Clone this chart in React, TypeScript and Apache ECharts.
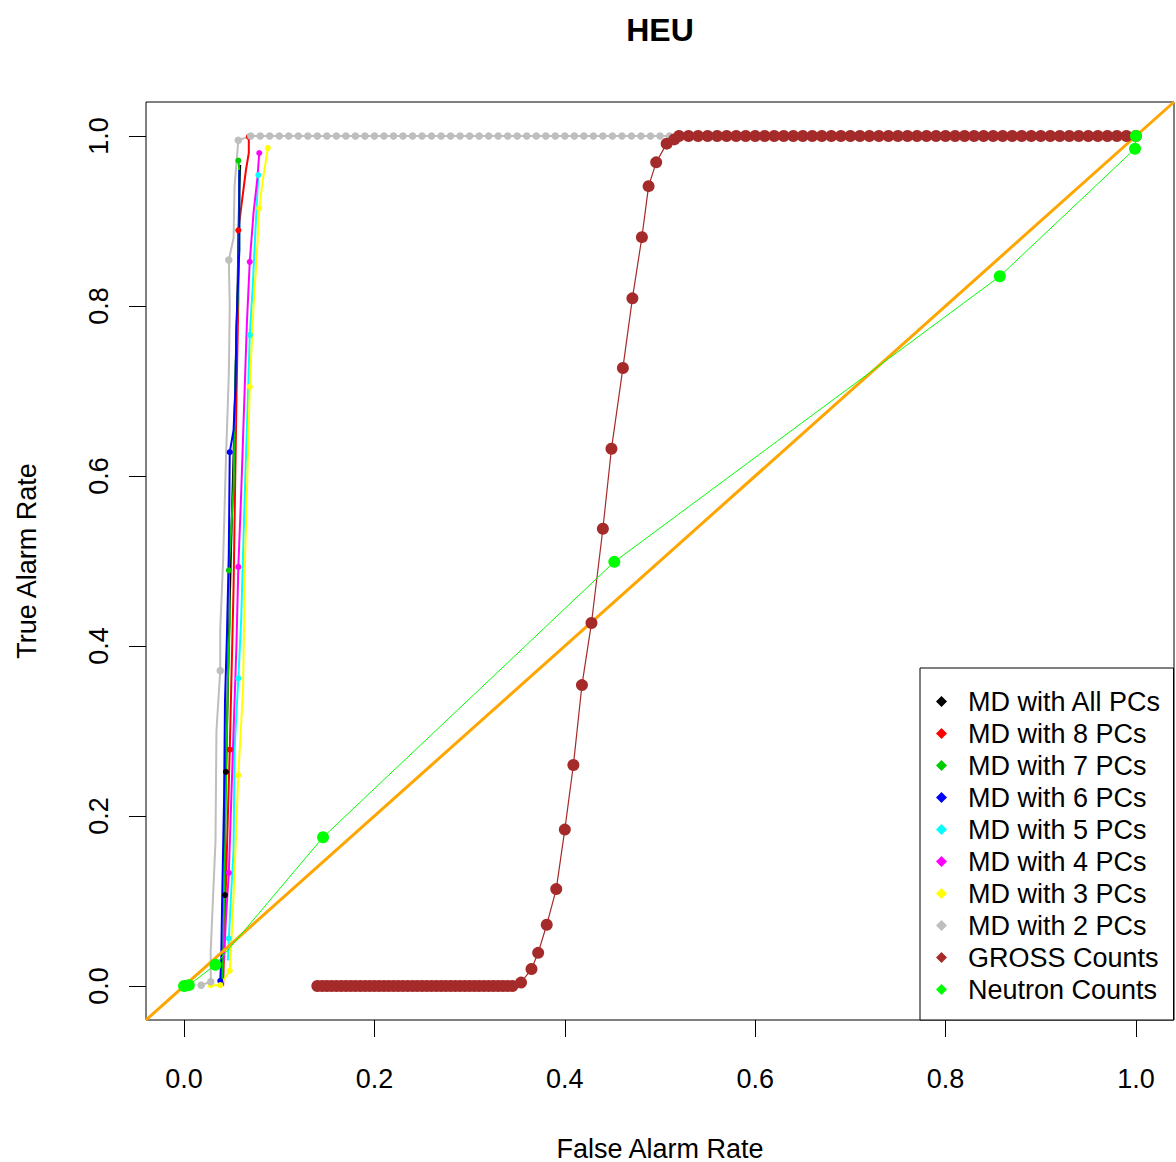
import React, { useEffect, useRef } from 'react';
import * as echarts from 'echarts';

const xTicks = [0, 0.2, 0.4, 0.6, 0.8, 1.0];
const yTicks = [0, 0.2, 0.4, 0.6, 0.8, 1.0];

const names = [
  'MD with All PCs', 'MD with 8 PCs', 'MD with 7 PCs', 'MD with 6 PCs', 'MD with 5 PCs',
  'MD with 4 PCs', 'MD with 3 PCs', 'MD with 2 PCs', 'GROSS Counts', 'Neutron Counts',
];
const colors = [
  '#000000', '#FF0000', '#00CD00', '#0000FF', '#00FFFF',
  '#FF00FF', '#FFFF00', '#BEBEBE', '#A52A2A', '#00FF00',
];

// [false alarm rate, true alarm rate, dot shown (1) or not (0)]
const mdAll = [
  [0.040, 0.001, 0], [0.042, 0.054, 0], [0.043, 0.107, 1], [0.043, 0.222, 0], [0.044, 0.252, 1],
  [0.046, 0.352, 0], [0.049, 0.501, 0], [0.053, 0.666, 0], [0.056, 0.807, 0], [0.058, 0.936, 0], [0.059, 0.966, 0],
];
const md8 = [
  [0.041, 0.0, 0], [0.042, 0.042, 0], [0.045, 0.16, 0], [0.048, 0.278, 1], [0.052, 0.469, 0],
  [0.055, 0.69, 0], [0.057, 0.807, 0], [0.057, 0.889, 1], [0.06, 0.916, 0], [0.065, 0.96, 0], [0.068, 0.98, 0], [0.068, 0.999, 1],
];
const md7 = [
  [0.040, 0.0, 0], [0.041, 0.042, 0], [0.043, 0.16, 0], [0.046, 0.36, 0], [0.048, 0.43, 0],
  [0.047, 0.489, 1], [0.052, 0.587, 0], [0.054, 0.725, 0], [0.058, 0.866, 0], [0.058, 0.96, 0], [0.057, 0.971, 1],
];
const md6 = [
  [0.038, 0.006, 1], [0.039, 0.031, 0], [0.040, 0.101, 0], [0.042, 0.219, 0], [0.043, 0.336, 0],
  [0.045, 0.411, 0], [0.047, 0.509, 0], [0.048, 0.628, 1], [0.052, 0.654, 0], [0.054, 0.705, 0],
  [0.055, 0.778, 0], [0.058, 0.866, 0], [0.058, 0.96, 0],
];
const md5 = [
  [0.046, 0.03, 0], [0.047, 0.056, 1], [0.049, 0.1, 0], [0.052, 0.16, 0], [0.053, 0.278, 0],
  [0.057, 0.362, 1], [0.060, 0.431, 0], [0.062, 0.509, 0], [0.064, 0.587, 0], [0.067, 0.69, 0],
  [0.069, 0.766, 1], [0.072, 0.82, 0], [0.075, 0.89, 0], [0.078, 0.954, 1],
];
const md4 = [
  [0.042, 0.03, 0], [0.044, 0.08, 0], [0.047, 0.133, 1], [0.049, 0.2, 0], [0.052, 0.3, 0],
  [0.055, 0.4, 0], [0.057, 0.493, 1], [0.060, 0.58, 0], [0.063, 0.68, 0], [0.066, 0.78, 0],
  [0.069, 0.852, 1], [0.073, 0.91, 0], [0.077, 0.95, 0], [0.079, 0.98, 1],
];
const md3 = [
  [0.028, 0.001, 1], [0.038, 0.001, 1], [0.048, 0.018, 1], [0.051, 0.08, 0], [0.054, 0.16, 0],
  [0.057, 0.248, 1], [0.062, 0.35, 0], [0.064, 0.5, 0], [0.067, 0.62, 0], [0.069, 0.705, 1],
  [0.073, 0.8, 0], [0.077, 0.87, 0], [0.079, 0.915, 1], [0.083, 0.95, 0], [0.088, 0.986, 1],
];
const md2Rise = [
  [0.018, 0.001, 1], [0.028, 0.005, 1], [0.028, 0.042, 0], [0.033, 0.17, 0], [0.034, 0.3, 0],
  [0.038, 0.371, 1], [0.038, 0.42, 0], [0.041, 0.5, 0], [0.044, 0.62, 0], [0.047, 0.72, 0],
  [0.048, 0.8, 0], [0.047, 0.854, 1], [0.052, 0.88, 0], [0.053, 0.94, 0], [0.057, 0.995, 1],
];
const md2TopX = [
  0.07, 0.08, 0.09, 0.10, 0.11, 0.12, 0.13, 0.14, 0.15, 0.16, 0.17, 0.18, 0.19, 0.20, 0.21, 0.22,
  0.23, 0.24, 0.25, 0.26, 0.27, 0.28, 0.29, 0.30, 0.31, 0.32, 0.33, 0.34, 0.35, 0.36, 0.37, 0.38,
  0.39, 0.40, 0.41, 0.42, 0.43, 0.44, 0.45, 0.46, 0.47, 0.48, 0.49, 0.50, 0.51, 0.52, 0.53, 0.54,
  0.55, 0.56, 0.57, 0.58, 0.59, 0.60, 0.61, 0.62, 0.63, 0.64, 0.65, 0.66, 0.67, 0.68, 0.69, 0.70,
  0.71, 0.72, 0.73, 0.74, 0.75, 0.76, 0.77, 0.78, 0.79, 0.80, 0.81, 0.82, 0.83, 0.84, 0.85, 0.86,
  0.87, 0.88, 0.89, 0.90, 0.91, 0.92, 0.93, 0.94, 0.95, 0.96, 0.97, 0.98, 0.99, 1.00,
];

const grossLowX = [
  0.140, 0.145, 0.150, 0.155, 0.160, 0.165, 0.170, 0.175, 0.180, 0.185, 0.190, 0.195, 0.200, 0.205,
  0.210, 0.215, 0.220, 0.225, 0.230, 0.235, 0.240, 0.245, 0.250, 0.255, 0.260, 0.265, 0.270, 0.275,
  0.280, 0.285, 0.290, 0.295, 0.300, 0.305, 0.310, 0.315, 0.320, 0.325, 0.330, 0.335, 0.340, 0.345,
];
const grossRiseX = [
  0.354, 0.365, 0.372, 0.381, 0.391, 0.400, 0.409, 0.418, 0.428, 0.440, 0.449, 0.461, 0.471, 0.481,
  0.488, 0.496, 0.507, 0.515,
];
const grossRiseY = [
  0.004, 0.020, 0.039, 0.072, 0.114, 0.184, 0.260, 0.354, 0.427, 0.538, 0.632, 0.727, 0.809, 0.881,
  0.941, 0.969, 0.991, 0.996,
];
const grossTopX = [
  0.52, 0.53, 0.54, 0.55, 0.56, 0.57, 0.58, 0.59, 0.60, 0.61, 0.62, 0.63, 0.64, 0.65, 0.66, 0.67,
  0.68, 0.69, 0.70, 0.71, 0.72, 0.73, 0.74, 0.75, 0.76, 0.77, 0.78, 0.79, 0.80, 0.81, 0.82, 0.83,
  0.84, 0.85, 0.86, 0.87, 0.88, 0.89, 0.90, 0.91, 0.92, 0.93, 0.94, 0.95, 0.96, 0.97, 0.98, 0.99, 1.00,
];

const neutronX = [0.0, 0.005, 0.033, 0.146, 0.452, 0.857, 0.999, 1.0];
const neutronY = [0.0, 0.001, 0.025, 0.175, 0.499, 0.835, 0.985, 1.0];

const diagonal = [[-0.04, -0.04], [1.04, 1.04]];

const FONT = '"Liberation Sans", Arial, sans-serif';

function mdSeries(pts: number[][], i: number, z: number) {
  return {
    name: names[i],
    type: 'line',
    silent: true,
    z,
    showAllSymbol: true,
    symbolSize: 6,
    data: pts.map((p) => ({ value: [p[0], p[1]], symbol: p[2] ? 'circle' : 'none' })),
    lineStyle: { width: 2, color: colors[i] },
    itemStyle: { color: colors[i] },
  };
}

export default function App() {
  const ref = useRef<HTMLDivElement>(null);
  useEffect(() => {
    if (!ref.current) return;
    const chart = echarts.init(ref.current, undefined, { renderer: 'svg' });
    const md2 = md2Rise.concat(md2TopX.map((x) => [x, 1.0, 1]));
    const gross = grossLowX.map((x) => [x, 0])
      .concat(grossRiseX.map((x, k) => [x, grossRiseY[k]]))
      .concat(grossTopX.map((x) => [x, 1.0]));
    const neutron = neutronX.map((x, k) => [x, neutronY[k]]);
    const series: any[] = [
      mdSeries(mdAll, 0, 2),
      mdSeries(md8, 1, 2),
      mdSeries(md7, 2, 2),
      mdSeries(md6, 3, 2),
      mdSeries(md5, 4, 2),
      mdSeries(md4, 5, 2),
      mdSeries(md3, 6, 2),
      { ...mdSeries(md2, 7, 2), symbolSize: 7.5 },
      {
        name: 'diag', type: 'line', silent: true, z: 3, symbol: 'none', data: diagonal,
        lineStyle: { width: 3, color: '#FFA500' },
      },
      {
        name: names[8], type: 'line', silent: true, z: 4, symbol: 'circle', symbolSize: 12,
        showAllSymbol: true, data: gross,
        lineStyle: { width: 1.2, color: colors[8] }, itemStyle: { color: colors[8] },
      },
      {
        name: names[9], type: 'line', silent: true, z: 5, symbol: 'circle', symbolSize: 12,
        showAllSymbol: true, data: neutron,
        lineStyle: { width: 1, color: colors[9] }, itemStyle: { color: colors[9] },
      },
    ];
    chart.setOption({
      animation: false,
      backgroundColor: '#ffffff',
      textStyle: { fontFamily: FONT },
      grid: {
        left: 146, top: 102, width: 1028, height: 918,
        show: true, borderColor: '#000', borderWidth: 1, backgroundColor: 'transparent',
        containLabel: false,
        outerBoundsMode: 'none',
      },
      graphic: [
        {
          type: 'text', x: 660, y: 30,
          style: {
            text: 'HEU', fontFamily: FONT, fontSize: 32, fontWeight: 'bold', fill: '#000',
            align: 'center', verticalAlign: 'middle',
          },
        },
      ],
      legend: {
        data: names,
        orient: 'vertical',
        left: 920,
        top: 668,
        icon: 'diamond',
        itemWidth: 11,
        itemHeight: 11,
        itemGap: 5,
        padding: [20, 12, 17, 16],
        borderColor: '#000',
        borderWidth: 1,
        backgroundColor: '#fff',
        selectedMode: false,
        textStyle: { fontFamily: FONT, fontSize: 27, color: '#000', padding: [0, 0, 0, 16] },
      },
      xAxis: {
        type: 'value', min: -0.04, max: 1.04,
        name: 'False Alarm Rate', nameLocation: 'middle', nameGap: 115,
        nameTextStyle: { fontFamily: FONT, fontSize: 27, color: '#000' },
        axisLine: { show: false, onZero: false },
        splitLine: { show: false },
        axisTick: { show: true, inside: false, customValues: xTicks, length: 17, lineStyle: { color: '#000', width: 1 } },
        axisLabel: {
          customValues: xTicks, margin: 45, fontFamily: FONT, fontSize: 27, color: '#000',
          formatter: (v: number) => v.toFixed(1),
        },
      },
      yAxis: {
        type: 'value', min: -0.04, max: 1.04,
        name: 'True Alarm Rate', nameLocation: 'middle', nameGap: 106,
        nameTextStyle: { fontFamily: FONT, fontSize: 27, color: '#000' },
        axisLine: { show: false, onZero: false },
        splitLine: { show: false },
        axisTick: { show: true, inside: false, customValues: yTicks, length: 17, lineStyle: { color: '#000', width: 1 } },
        axisLabel: {
          customValues: yTicks, margin: 34, rotate: 90, fontFamily: FONT, fontSize: 27, color: '#000',
          formatter: (v: number) => v.toFixed(1),
        },
      },
      series,
    });
    return () => chart.dispose();
  }, []);
  return (
    <div
      ref={ref}
      style={{ position: 'absolute', left: 0, top: 0, width: 1176, height: 1162 }}
    />
  );
}
